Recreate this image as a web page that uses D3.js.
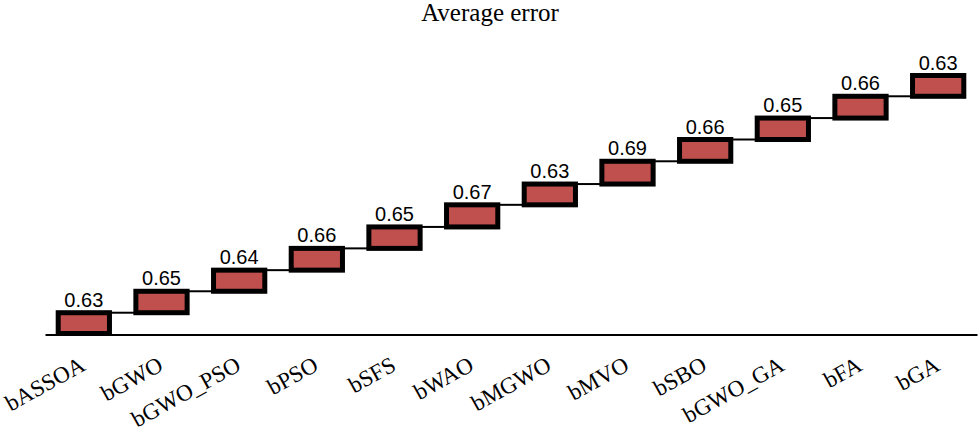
<!DOCTYPE html>
<html>
<head>
<meta charset="utf-8">
<script src="https://cdn.jsdelivr.net/npm/d3@7"></script>
<style>
    body { margin: 0; background: #fff; }
    .title { font-family: "Liberation Serif", "Times New Roman", serif; font-size: 25px; }
    .cat text { font-family: "Liberation Serif", "Times New Roman", serif; font-size: 23px; fill: #000; }
    .val { font-family: "Liberation Sans", Arial, sans-serif; font-size: 20px; fill: #000; }
</style>
</head>
<body>
<div id="chart"></div>
<script>

const categories = ["bASSOA", "bGWO", "bGWO_PSO", "bPSO", "bSFS", "bWAO", "bMGWO",
    "bMVO", "bSBO", "bGWO_GA", "bFA", "bGA"];
const values = [0.63, 0.65, 0.64, 0.66, 0.65, 0.67, 0.63, 0.69, 0.66, 0.65, 0.66, 0.63];
const chartTitle = "Average error";

const width = 980, height = 432;
const margin = { left: 45, right: 3, baseline: 333.5, top: 75.5 };

// waterfall: each box starts where the previous one ended
let running = 0;
const steps = values.map((v, i) => {
    const s = { name: categories[i], value: v, start: running, end: running + v };
    running += v;
    return s;
});

const svg = d3.select("#chart").append("svg")
    .attr("width", width)
    .attr("height", height);

const x = d3.scaleBand()
    .domain(categories)
    .range([margin.left, width - margin.right])
    .paddingInner(0.34)
    .paddingOuter(0.17);

const y = d3.scaleLinear()
    .domain([0, running])
    .range([margin.baseline, margin.top]);

svg.append("text")
    .attr("class", "title")
    .attr("x", width / 2)
    .attr("y", 21)
    .attr("text-anchor", "middle")
    .text(chartTitle);

// connectors
svg.append("g").selectAll("line").data(steps.slice(0, -1)).enter()
    .append("line")
    .attr("x1", d => x(d.name) + x.bandwidth())
    .attr("x2", (d, i) => x(categories[i + 1]))
    .attr("y1", d => y(d.end))
    .attr("y2", d => y(d.end))
    .attr("stroke", "#000")
    .attr("stroke-width", 2);

// axis, labels slanted
const xAxis = d3.axisBottom(x).tickSize(0).tickSizeOuter(0);
const axisG = svg.append("g")
    .attr("class", "cat")
    .attr("transform", "translate(0," + (margin.baseline + 1) + ")")
    .call(xAxis);
axisG.select(".domain").attr("stroke", "#000").attr("stroke-width", 2.2);
axisG.selectAll(".tick text")
    .attr("text-anchor", "end")
    .attr("dy", null)
    .attr("y", 0)
    .attr("transform", "translate(3,35) rotate(-29)");

// boxes
svg.append("g").selectAll("rect").data(steps).enter()
    .append("rect")
    .attr("x", d => x(d.name))
    .attr("width", x.bandwidth())
    .attr("y", d => y(d.end))
    .attr("height", d => y(d.start) - y(d.end))
    .attr("fill", "#c0504d")
    .attr("stroke", "#000")
    .attr("stroke-width", 5);

svg.append("g").selectAll("text").data(steps).enter()
    .append("text")
    .attr("class", "val")
    .attr("x", d => x(d.name) + x.bandwidth() / 2)
    .attr("y", d => y(d.end) - 6)
    .attr("text-anchor", "middle")
    .text(d => d.value.toFixed(2));

</script>
</body>
</html>
